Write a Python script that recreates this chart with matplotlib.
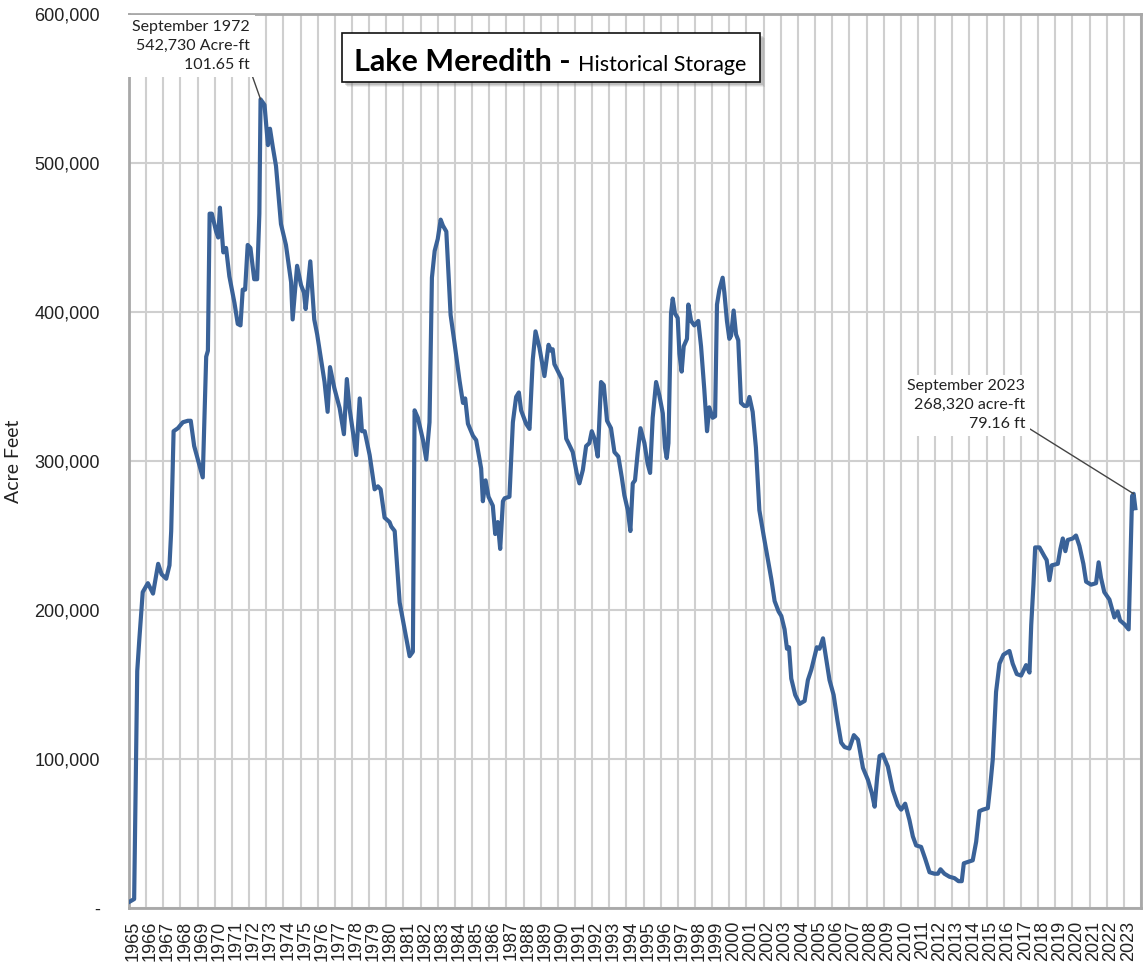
import numpy as np
import matplotlib
matplotlib.use("Agg")
import matplotlib.pyplot as plt
from matplotlib.patches import Rectangle

# Lake Meredith storage (decimal year, acre-ft)
years = [
    1965.0, 1965.3, 1965.48, 1965.6, 1965.8, 1966.1, 1966.4, 1966.7, 1966.9, 1967.17,
    1967.36, 1967.46, 1967.6, 1967.85, 1968.14, 1968.43, 1968.6, 1968.8, 1969.3, 1969.5,
    1969.6, 1969.7, 1969.83, 1970.08, 1970.2, 1970.3, 1970.5, 1970.66, 1970.85, 1971.15,
    1971.34, 1971.5, 1971.63, 1971.77, 1971.92, 1972.08, 1972.3, 1972.47, 1972.6, 1972.67,
    1972.9, 1973.1, 1973.22, 1973.38, 1973.57, 1973.86, 1974.15, 1974.45, 1974.54, 1974.8,
    1975.03, 1975.2, 1975.3, 1975.57, 1975.8, 1975.97, 1976.4, 1976.58, 1976.72, 1976.97,
    1977.28, 1977.53, 1977.7, 1977.86, 1978.25, 1978.45, 1978.58, 1978.74, 1979.03, 1979.32,
    1979.51, 1979.67, 1979.9, 1980.19, 1980.29, 1980.49, 1980.78, 1981.17, 1981.36, 1981.55,
    1981.65, 1981.84, 1982.14, 1982.33, 1982.52, 1982.66, 1982.82, 1983.0, 1983.17, 1983.3,
    1983.5, 1983.75, 1983.98, 1984.27, 1984.47, 1984.6, 1984.76, 1985.05, 1985.24, 1985.53,
    1985.63, 1985.79, 1985.96, 1986.21, 1986.35, 1986.5, 1986.64, 1986.8, 1986.9, 1987.18,
    1987.38, 1987.57, 1987.73, 1987.86, 1988.15, 1988.35, 1988.54, 1988.7, 1988.93, 1989.22,
    1989.46, 1989.6, 1989.7, 1989.8, 1990.23, 1990.49, 1990.62, 1990.87, 1991.1, 1991.26,
    1991.46, 1991.65, 1991.84, 1991.98, 1992.14, 1992.33, 1992.52, 1992.68, 1992.87, 1993.1,
    1993.3, 1993.53, 1993.73, 1993.88, 1994.08, 1994.23, 1994.37, 1994.5, 1994.66, 1994.82,
    1995.05, 1995.24, 1995.38, 1995.53, 1995.73, 1995.92, 1996.12, 1996.25, 1996.35, 1996.45,
    1996.6, 1996.7, 1996.83, 1996.99, 1997.09, 1997.22, 1997.34, 1997.53, 1997.61, 1997.77,
    1997.96, 1998.19, 1998.35, 1998.54, 1998.7, 1998.83, 1999.03, 1999.17, 1999.28, 1999.42,
    1999.61, 1999.71, 1999.86, 2000.0, 2000.1, 2000.25, 2000.39, 2000.52, 2000.68, 2000.87,
    2001.03, 2001.17, 2001.36, 2001.55, 2001.75, 2002.0, 2002.45, 2002.64, 2002.87, 2003.03,
    2003.22, 2003.36, 2003.48, 2003.61, 2003.84, 2004.1, 2004.39, 2004.58, 2004.78, 2004.97,
    2005.1, 2005.26, 2005.46, 2005.61, 2005.84, 2006.08, 2006.3, 2006.52, 2006.72, 2007.0,
    2007.26, 2007.5, 2007.79, 2008.08, 2008.31, 2008.47, 2008.62, 2008.76, 2008.95, 2009.24,
    2009.53, 2009.83, 2010.02, 2010.25, 2010.5, 2010.7, 2010.89, 2011.18, 2011.42, 2011.67,
    2011.96, 2012.16, 2012.31, 2012.54, 2012.83, 2013.13, 2013.36, 2013.55, 2013.67, 2014.19,
    2014.39, 2014.58, 2014.78, 2015.07, 2015.22, 2015.36, 2015.55, 2015.75, 2015.98, 2016.33,
    2016.52, 2016.76, 2017.01, 2017.3, 2017.5, 2017.6, 2017.73, 2017.83, 2018.08, 2018.37,
    2018.5, 2018.66, 2018.8, 2019.15, 2019.3, 2019.44, 2019.59, 2019.73, 2020.02, 2020.21,
    2020.41, 2020.64, 2020.8, 2021.09, 2021.38, 2021.53, 2021.67, 2021.86, 2022.16, 2022.45,
    2022.64, 2022.78, 2023.03, 2023.28, 2023.38, 2023.48, 2023.57, 2023.67,
]
storage = [
    4000, 6000, 159000, 180000, 212000, 218000, 211000, 231000, 224000, 221000,
    230000, 253000, 320000, 322000, 326000, 327000, 327000, 310000, 289000, 370000,
    374000, 466000, 466000, 454000, 450000, 470000, 440000, 443000, 424000, 406000,
    392000, 391000, 415000, 415000, 445000, 443000, 422000, 422000, 466000, 542730,
    539000, 512000, 523000, 511000, 498000, 459000, 445000, 420000, 395000, 431000,
    418000, 413000, 402000, 434000, 395000, 385000, 353000, 333000, 363000, 349000,
    335500, 318000, 355000, 335000, 304000, 342000, 320000, 320000, 304000, 281000,
    283000, 281000, 262000, 259000, 256000, 253000, 205000, 181000, 169000, 172000,
    334000, 329000, 314000, 301000, 326000, 423000, 441000, 449000, 462000, 458000,
    454000, 398000, 379000, 354000, 339000, 342000, 325000, 317000, 314000, 295000,
    273000, 287000, 276000, 270000, 251000, 259000, 241000, 273000, 275000, 276000,
    326000, 343000, 346000, 334000, 325000, 321500, 368000, 387000, 376000, 357000,
    378000, 374000, 375000, 365000, 355000, 315000, 312000, 306000, 292000, 285000,
    294000, 310000, 312000, 320000, 315000, 303000, 353000, 351000, 327000, 322000,
    306000, 303000, 289000, 277000, 267000, 253000, 285000, 287000, 306000, 322000,
    312000, 298000, 292000, 329000, 353000, 344000, 332000, 309000, 302000, 312000,
    399000, 409000, 399000, 396000, 372000, 360000, 377000, 382000, 405000, 394000,
    391000, 394000, 377000, 348000, 320000, 336000, 329000, 330000, 405000, 415000,
    423000, 413000, 394000, 382000, 384000, 401000, 385000, 381000, 339000, 337000,
    337000, 343000, 333000, 309000, 267000, 250000, 220600, 206000, 199000, 196000,
    187000, 174000, 175000, 154000, 143000, 137000, 139000, 153000, 160000, 169000,
    175000, 174000, 181000, 170000, 153000, 143000, 126000, 111000, 108000, 107000,
    116000, 113000, 94000, 86000, 77000, 68000, 88000, 102000, 103000, 95000,
    79000, 69000, 66000, 70000, 59000, 48000, 42000, 41000, 33000, 24000,
    23000, 23000, 26000, 23000, 21000, 20000, 18000, 18000, 30000, 32000,
    44500, 65000, 66000, 67000, 83000, 100000, 145000, 164000, 170000, 172500,
    164000, 157000, 156000, 163000, 158000, 190000, 217000, 242000, 242000, 236000,
    233500, 220000, 230000, 231000, 241000, 248000, 239500, 247000, 248000, 250000,
    243000, 231000, 219000, 217000, 218000, 232000, 221500, 212000, 207000, 195000,
    199000, 193000, 190500, 187000, 231000, 276500, 278000, 268320,
]

year_labels = [str(y) for y in range(1965, 2024)]
y_ticks = [0, 100000, 200000, 300000, 400000, 500000, 600000]

W, H = 1143, 973
fig = plt.figure(figsize=(W / 100, H / 100), dpi=100)
ax = fig.add_axes([129 / W, 1 - 908 / H, 1012 / W, 894 / H])

def px(x, y):
    # picture pixel -> figure fraction
    return x / W, 1 - y / H

ax.plot(years, storage, color="#3a6298", lw=3.0, solid_joinstyle="round", zorder=3)

ax.set_xlim(1965, 2024)
ax.set_ylim(0, 600000)

# year boundaries carry the grid, labels sit just inside each year
ax.set_xticks(np.arange(1965, 2025))
ax.set_xticklabels([])
ax.set_xticks(np.arange(1965, 2024) + 0.25, minor=True)
ax.set_xticklabels(year_labels, minor=True, rotation=90, fontsize=13,
                   family="Liberation Sans", color="#222222")
ax.tick_params(axis="x", which="both", length=0, pad=9)
ax.grid(axis="x", which="major", color="#cfcfcf", lw=1.5, zorder=0)

ax.set_yticks(y_ticks)
ax.set_yticklabels(["-"] + [f"{v:,}" for v in y_ticks[1:]], fontsize=13,
                   family="Liberation Sans", color="#222222")
ax.tick_params(axis="y", length=0, pad=21)
ax.grid(axis="y", color="#cfcfcf", lw=1.5, zorder=0)

for s in ax.spines.values():
    s.set_color("#a8a8a8")
    s.set_linewidth(2)

ax.set_ylabel("Acre Feet", fontsize=14, family="Lato", color="#222222")
ax.yaxis.set_label_coords(-0.106, 0.5)

# callouts
box = dict(boxstyle="square,pad=0.3", fc="white", ec="none")
ax.annotate("September 1972\n542,730 Acre-ft\n101.65 ft", xy=(1972.67, 542730),
            xytext=(1972.05, 596000), ha="right", va="top", fontsize=11.5,
            family="Lato", color="#222222", linespacing=1.45, bbox=box,
            arrowprops=dict(arrowstyle="-", color="#444444", lw=1,
                            shrinkA=0, shrinkB=0, relpos=(1, 0.05)), zorder=4)
ax.annotate("September 2023\n268,320 acre-ft\n79.16 ft", xy=(2023.57, 278000),
            xytext=(2017.25, 320000), ha="right", va="bottom", fontsize=11.5,
            family="Lato", color="#222222", linespacing=1.45, bbox=box,
            arrowprops=dict(arrowstyle="-", color="#444444", lw=1,
                            shrinkA=0, shrinkB=0, relpos=(1, 0.1)), zorder=4)

# title box with a soft shadow
bx0, by0 = px(342, 82)
bw, bh = 418 / W, 49 / H
for off, a in [(5, 0.12), (4, 0.18), (3, 0.25)]:
    fig.patches.append(Rectangle((bx0 + off / W, by0 - off / H), bw, bh,
                                 transform=fig.transFigure, fc="#777777",
                                 ec="none", alpha=a, zorder=5))
fig.patches.append(Rectangle((bx0, by0), bw, bh, transform=fig.transFigure,
                             fc="white", ec="#111111", lw=1.2, zorder=6))
t1 = fig.text(*px(354, 71), "Lake Meredith -", fontsize=22, fontweight="bold",
              family="Lato", color="black", va="baseline", zorder=7)
fig.canvas.draw()
ext = t1.get_window_extent()
fig.text(ext.x1 / W + 7 / W, px(0, 71)[1], "Historical Storage", fontsize=15.5,
         family="Lato", color="black", va="baseline", zorder=7)

fig.savefig("out.png", dpi=100)
